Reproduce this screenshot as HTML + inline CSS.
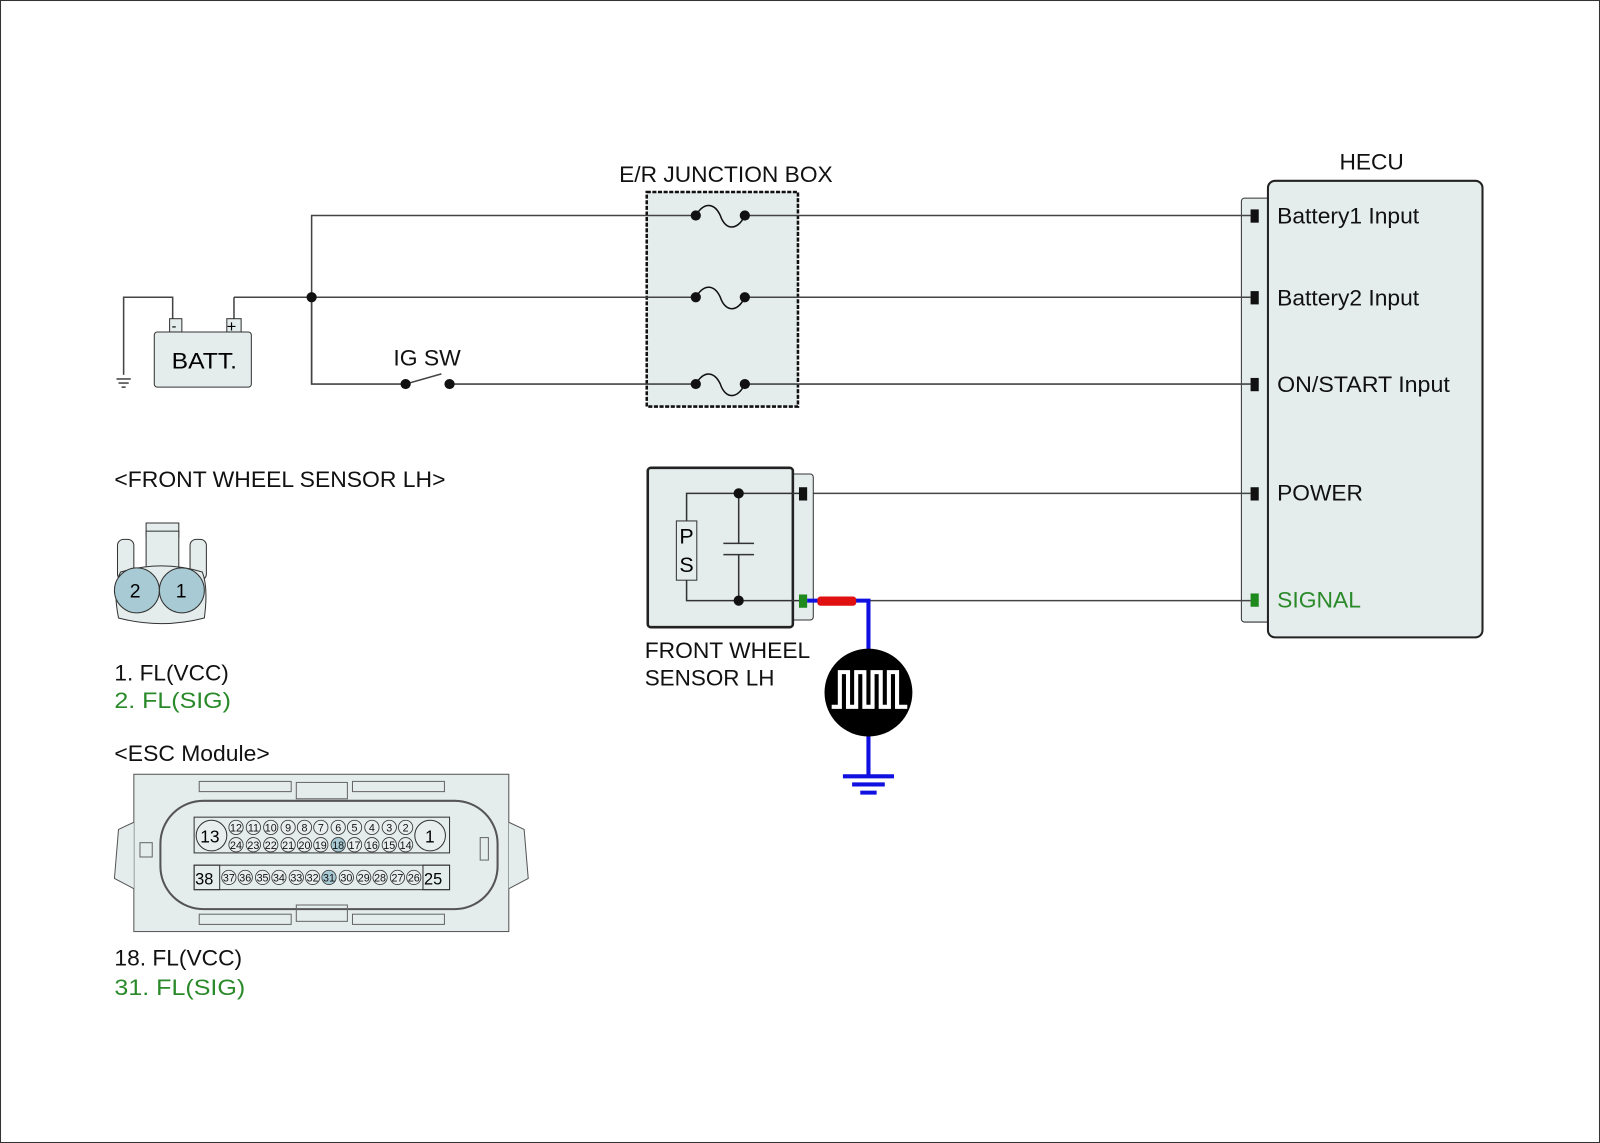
<!DOCTYPE html>
<html><head><meta charset="utf-8"><style>html,body{margin:0;padding:0;background:#fff}svg{display:block}text{font-family:"Liberation Sans",Arial,sans-serif}</style></head><body>
<svg width="1600" height="1143" viewBox="0 0 1566 1119" preserveAspectRatio="none" xmlns="http://www.w3.org/2000/svg">
<rect x="0.5" y="0.5" width="1565" height="1118" fill="#fff" stroke="#333"/>
<g font-size="22" fill="#111">
<text x="606" y="178" textLength="209" lengthAdjust="spacingAndGlyphs">E/R JUNCTION BOX</text>
<text x="1311" y="166" textLength="63" lengthAdjust="spacingAndGlyphs">HECU</text>
<text x="385" y="358" textLength="66" lengthAdjust="spacingAndGlyphs">IG SW</text>
<text x="112" y="477" textLength="324" lengthAdjust="spacingAndGlyphs">&lt;FRONT WHEEL SENSOR LH&gt;</text>
<text x="112" y="666" textLength="112" lengthAdjust="spacingAndGlyphs">1. FL(VCC)</text>
<text x="112" y="693" fill="#2a8a2a" textLength="114" lengthAdjust="spacingAndGlyphs">2. FL(SIG)</text>
<text x="112" y="745" textLength="152" lengthAdjust="spacingAndGlyphs">&lt;ESC Module&gt;</text>
<text x="112" y="945" textLength="125" lengthAdjust="spacingAndGlyphs">18. FL(VCC)</text>
<text x="112" y="974" fill="#2a8a2a" textLength="128" lengthAdjust="spacingAndGlyphs">31. FL(SIG)</text>
<text x="631" y="644" textLength="162" lengthAdjust="spacingAndGlyphs">FRONT WHEEL</text>
<text x="631" y="671" textLength="127" lengthAdjust="spacingAndGlyphs">SENSOR LH</text>
</g>
<!-- HECU -->
<rect x="1215" y="194" width="30" height="415" rx="3" fill="#e4ecec" stroke="#333"/>
<rect x="1241" y="177" width="210" height="447" rx="7" fill="#e4ecec" stroke="#222" stroke-width="2"/>
<g font-size="22" fill="#111">
<text x="1250" y="219" textLength="139" lengthAdjust="spacingAndGlyphs">Battery1 Input</text>
<text x="1250" y="299" textLength="139" lengthAdjust="spacingAndGlyphs">Battery2 Input</text>
<text x="1250" y="384" textLength="169" lengthAdjust="spacingAndGlyphs">ON/START Input</text>
<text x="1250" y="490" textLength="84" lengthAdjust="spacingAndGlyphs">POWER</text>
<text x="1250" y="595" fill="#2a8a2a" textLength="82" lengthAdjust="spacingAndGlyphs">SIGNAL</text>
</g>
<g fill="#111"><rect x="1224" y="205" width="8" height="13"/><rect x="1224" y="285" width="8" height="13"/><rect x="1224" y="370" width="8" height="13"/><rect x="1224" y="477" width="8" height="13"/></g>
<rect x="1224" y="581" width="8" height="13" fill="#1e8a1e"/>
<!-- junction box -->
<rect x="633" y="188" width="148" height="210" fill="#e4ecec" stroke="#111" stroke-width="2.5" stroke-dasharray="4,1.5"/>
<g stroke="#444" stroke-width="1.5" fill="none">
<polyline points="305,376 305,211 681,211"/>
<line x1="729" y1="211" x2="1224" y2="211"/>
<line x1="229" y1="291" x2="681" y2="291"/>
<line x1="729" y1="291" x2="1224" y2="291"/>
<polyline points="305,291 305,376 397,376"/>
<line x1="397" y1="376" x2="432" y2="366"/>
<line x1="440" y1="376" x2="681" y2="376"/>
<line x1="729" y1="376" x2="1224" y2="376"/>
<line x1="786" y1="483" x2="1224" y2="483"/>
<line x1="850" y1="588" x2="1224" y2="588"/>
<polyline points="121,367 121,291 169,291 169,313"/>
<polyline points="229,313 229,291"/>
<line x1="114" y1="371" x2="128" y2="371"/><line x1="116" y1="375" x2="126" y2="375"/><line x1="119" y1="379" x2="123" y2="379"/>
</g>
<g stroke="#111" stroke-width="1.5" fill="none">
<path d="M681,211 C690,196 700,200 705,211 C710,226 722,226 729,211"/>
<path d="M681,291 C690,276 700,280 705,291 C710,306 722,306 729,291"/>
<path d="M681,376 C690,361 700,365 705,376 C710,391 722,391 729,376"/>
</g>
<g fill="#111">
<circle cx="305" cy="291" r="5"/>
<circle cx="681" cy="211" r="5"/><circle cx="729" cy="211" r="5"/>
<circle cx="681" cy="291" r="5"/><circle cx="729" cy="291" r="5"/>
<circle cx="681" cy="376" r="5"/><circle cx="729" cy="376" r="5"/>
<circle cx="397" cy="376" r="5"/><circle cx="440" cy="376" r="5"/>
</g>
<!-- battery -->
<rect x="166" y="312" width="12" height="13" fill="#e4ecec" stroke="#333"/>
<rect x="222" y="312" width="14" height="13" fill="#e4ecec" stroke="#333"/>
<text x="168" y="324" font-size="14">-</text><text x="222" y="325" font-size="16">+</text>
<rect x="151" y="325" width="95" height="54" rx="3" fill="#e4ecec" stroke="#333"/>
<text x="168" y="361" font-size="22" textLength="64" lengthAdjust="spacingAndGlyphs">BATT.</text>
<!-- sensor -->
<rect x="770" y="464" width="26" height="143" rx="3" fill="#e4ecec" stroke="#333"/>
<rect x="634" y="458" width="142" height="156" rx="3" fill="#e4ecec" stroke="#222" stroke-width="2.5"/>
<g stroke="#333" stroke-width="1.5" fill="none">
<polyline points="672,510 672,483 786,483"/>
<polyline points="672,568 672,588 786,588"/>
<line x1="723" y1="483" x2="723" y2="532"/><line x1="723" y1="543" x2="723" y2="588"/>
<line x1="708" y1="532" x2="738" y2="532"/><line x1="708" y1="543" x2="738" y2="543"/>
</g>
<rect x="662" y="510" width="20" height="58" fill="#e4ecec" stroke="#333"/>
<text x="665" y="532" font-size="21">P</text><text x="665" y="560" font-size="21">S</text>
<circle cx="723" cy="483" r="5" fill="#111"/><circle cx="723" cy="588" r="5" fill="#111"/>
<rect x="782" y="477" width="8" height="13" fill="#111"/>
<rect x="782" y="582" width="8" height="13" fill="#1e8a1e"/>
<polyline points="790,588 850,588 850,640" stroke="#1010e0" stroke-width="4" fill="none"/>
<rect x="800" y="584" width="38" height="9" rx="3" fill="#e01010"/>
<line x1="850" y1="716" x2="850" y2="760" stroke="#1010e0" stroke-width="4"/>
<g stroke="#1010e0" stroke-width="4"><line x1="825" y1="760" x2="875" y2="760"/><line x1="834" y1="768" x2="866" y2="768"/><line x1="842" y1="776" x2="858" y2="776"/></g>
<circle cx="850" cy="678" r="43" fill="#000"/>
<path d="M814,692 L822,692 L822,658 L830,658 L830,692 L838,692 L838,658 L846,658 L846,692 L854,692 L854,658 L862,658 L862,692 L870,692 L870,658 L878,658 L878,692 L888,692" stroke="#fff" stroke-width="4" fill="none"/>
<!-- 2 pin connector -->
<path d="M143,512 h32 v14 h-32 z" fill="#e4ecec" stroke="#333"/>
<rect x="115" y="528" width="16" height="40" rx="6" fill="#e4ecec" stroke="#333"/>
<rect x="186" y="528" width="16" height="40" rx="6" fill="#e4ecec" stroke="#333"/>
<rect x="143" y="520" width="32" height="40" fill="#e4ecec" stroke="#333"/>
<path d="M118,560 Q158,548 198,560 Q204,575 200,605 Q158,616 116,605 Q110,575 118,560z" fill="#e4ecec" stroke="#333"/>
<circle cx="134" cy="578" r="22" fill="#a8cad4" stroke="#333"/>
<circle cx="178" cy="578" r="22" fill="#a8cad4" stroke="#333"/>
<text x="127" y="585" font-size="19">2</text><text x="172" y="585" font-size="19">1</text>
<!-- ESC connector -->
<rect x="131" y="758" width="367" height="154" fill="#e4ecec" stroke="#555"/>
<path d="M131,805 L116,812 L112,860 L131,870" fill="#e4ecec" stroke="#555"/>
<path d="M498,805 L513,812 L517,860 L498,870" fill="#e4ecec" stroke="#555"/>
<rect x="157" y="784" width="330" height="106" rx="42" fill="#e4ecec" stroke="#555" stroke-width="2"/>
<g fill="none" stroke="#666">
<rect x="195" y="765" width="90" height="10"/><rect x="345" y="765" width="90" height="10"/>
<rect x="290" y="766" width="50" height="16"/>
<rect x="195" y="895" width="90" height="10"/><rect x="345" y="895" width="90" height="10"/>
<rect x="290" y="886" width="50" height="16"/>
<rect x="137" y="825" width="12" height="14"/><rect x="470" y="820" width="8" height="22"/>
</g>
<rect x="190" y="800" width="250" height="35" fill="#e4ecec" stroke="#333"/>
<rect x="190" y="847" width="250" height="24" fill="#e4ecec" stroke="#333"/>
<circle cx="207" cy="818" r="15" fill="#e8eeee" stroke="#333"/><text x="196" y="825" font-size="17">13</text>
<circle cx="421" cy="818" r="15" fill="#e8eeee" stroke="#333"/><text x="416" y="825" font-size="17">1</text>
<rect x="190" y="847" width="25" height="24" fill="none" stroke="#333"/><text x="191" y="866" font-size="16">38</text>
<rect x="414" y="847" width="26" height="24" fill="none" stroke="#333"/><text x="415" y="866" font-size="16">25</text>
<g font-size="10.5" text-anchor="middle" stroke="#333" stroke-width="0.8">
<g fill="#e8eeee">
<circle cx="231" cy="810" r="7"/><circle cx="248" cy="810" r="7"/><circle cx="265" cy="810" r="7"/><circle cx="282" cy="810" r="7"/><circle cx="298" cy="810" r="7"/><circle cx="314" cy="810" r="7"/><circle cx="331" cy="810" r="7"/><circle cx="347" cy="810" r="7"/><circle cx="364" cy="810" r="7"/><circle cx="381" cy="810" r="7"/><circle cx="397" cy="810" r="7"/>
<circle cx="231" cy="827" r="7"/><circle cx="248" cy="827" r="7"/><circle cx="265" cy="827" r="7"/><circle cx="282" cy="827" r="7"/><circle cx="298" cy="827" r="7"/><circle cx="314" cy="827" r="7"/><circle cx="347" cy="827" r="7"/><circle cx="364" cy="827" r="7"/><circle cx="381" cy="827" r="7"/><circle cx="397" cy="827" r="7"/>
<circle cx="224" cy="859" r="7"/><circle cx="240" cy="859" r="7"/><circle cx="257" cy="859" r="7"/><circle cx="273" cy="859" r="7"/><circle cx="290" cy="859" r="7"/><circle cx="306" cy="859" r="7"/><circle cx="339" cy="859" r="7"/><circle cx="356" cy="859" r="7"/><circle cx="372" cy="859" r="7"/><circle cx="389" cy="859" r="7"/><circle cx="405" cy="859" r="7"/>
</g>
<circle cx="331" cy="827" r="7" fill="#a8cad4"/><circle cx="322" cy="859" r="7" fill="#a8cad4"/>
</g>
<g font-size="10.5" text-anchor="middle" fill="#111">
<text x="231" y="814">12</text><text x="248" y="814">11</text><text x="265" y="814">10</text><text x="282" y="814">9</text><text x="298" y="814">8</text><text x="314" y="814">7</text><text x="331" y="814">6</text><text x="347" y="814">5</text><text x="364" y="814">4</text><text x="381" y="814">3</text><text x="397" y="814">2</text>
<text x="231" y="831">24</text><text x="248" y="831">23</text><text x="265" y="831">22</text><text x="282" y="831">21</text><text x="298" y="831">20</text><text x="314" y="831">19</text><text x="331" y="831">18</text><text x="347" y="831">17</text><text x="364" y="831">16</text><text x="381" y="831">15</text><text x="397" y="831">14</text>
<text x="224" y="863">37</text><text x="240" y="863">36</text><text x="257" y="863">35</text><text x="273" y="863">34</text><text x="290" y="863">33</text><text x="306" y="863">32</text><text x="322" y="863">31</text><text x="339" y="863">30</text><text x="356" y="863">29</text><text x="372" y="863">28</text><text x="389" y="863">27</text><text x="405" y="863">26</text>
</g>
</svg>
</body></html>
